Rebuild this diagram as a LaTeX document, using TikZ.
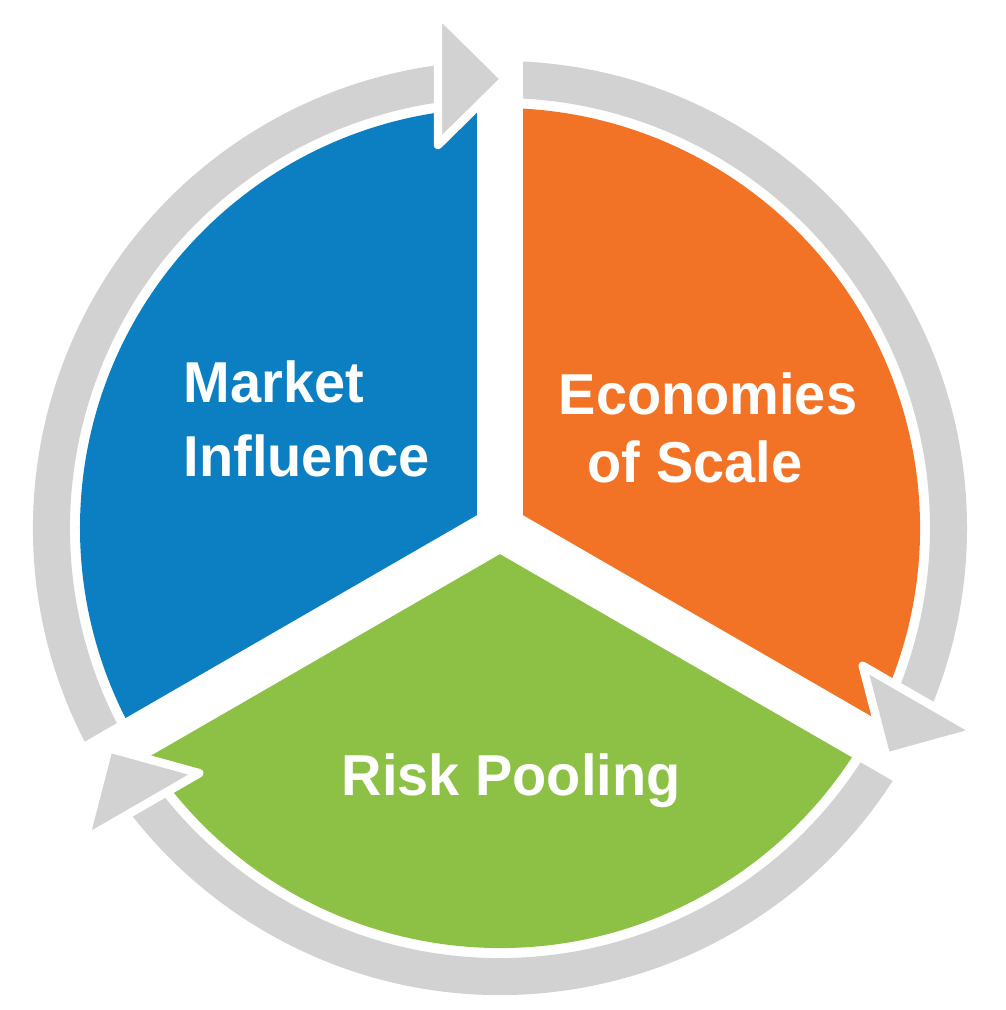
\documentclass[tikz,border=0pt]{standalone}
\usepackage{fontspec}
\newfontfamily\lab{Liberation Sans}[FakeStretch=0.97]
\definecolor{cblue}{RGB}{11,127,193}
\definecolor{corange}{RGB}{243,115,38}
\definecolor{cgreen}{RGB}{141,193,69}
\definecolor{cring}{RGB}{210,210,210}
\tikzset{
  ringarc/.style={draw=cring, line width=0.37cm},
  gapband/.style={draw=white, line width=0.45cm},
  arrowtip/.style={fill=cring, draw=white, line width=2.4pt, line join=round},
  label/.style={anchor=base west, inner sep=0pt, text=white,
    font=\lab\bfseries\fontsize{16.4pt}{20pt}\selectfont}
}
\begin{document}
\begin{tikzpicture}[x=0.01cm, y=0.01cm]
\useasboundingbox (-500,-482) rectangle (505,528);
\coordinate (c) at (0,0);
% pie sectors
\fill[cblue] (c) -- (90:420) arc[start angle=90, end angle=210, radius=420] -- cycle;
\fill[corange] (c) -- (-30:420) arc[start angle=-30, end angle=90, radius=420] -- cycle;
\fill[cgreen] (c) -- (210:420) arc[start angle=210, end angle=330, radius=420] -- cycle;
% ring arcs (clockwise)
\draw[ringarc] (212:448.5) arc[start angle=212, end angle=96, radius=448.5];
\draw[ringarc] (92:448.5) arc[start angle=92, end angle=-24, radius=448.5];
\draw[ringarc] (-28:448.5) arc[start angle=-28, end angle=-144, radius=448.5];
% gaps
\coordinate (g1) at (90:500);
\coordinate (g2) at (-30:500);
\coordinate (g3) at (210:500);
\draw[gapband] (c) -- (g1);
\draw[gapband] (c) -- (g2);
\draw[gapband] (c) -- (g3);
% arrowheads
\foreach \t in {90,-30,210}{
  \begin{scope}[rotate=\t-90]
    \filldraw[arrowtip] (-62,383) -- (5,449) -- (-62,515) -- cycle;
  \end{scope}
}
% labels
\node[label] (m1) at (-317,125) {Market};
\node[label] (m2) at (-317,51) {Influence};
\node[label] (e1) at (58,113) {Economies};
\node[label] (e2) at (87,45) {of Scale};
\node[label] (r1) at (-159,-267) {Risk Pooling};
\end{tikzpicture}
\end{document}
